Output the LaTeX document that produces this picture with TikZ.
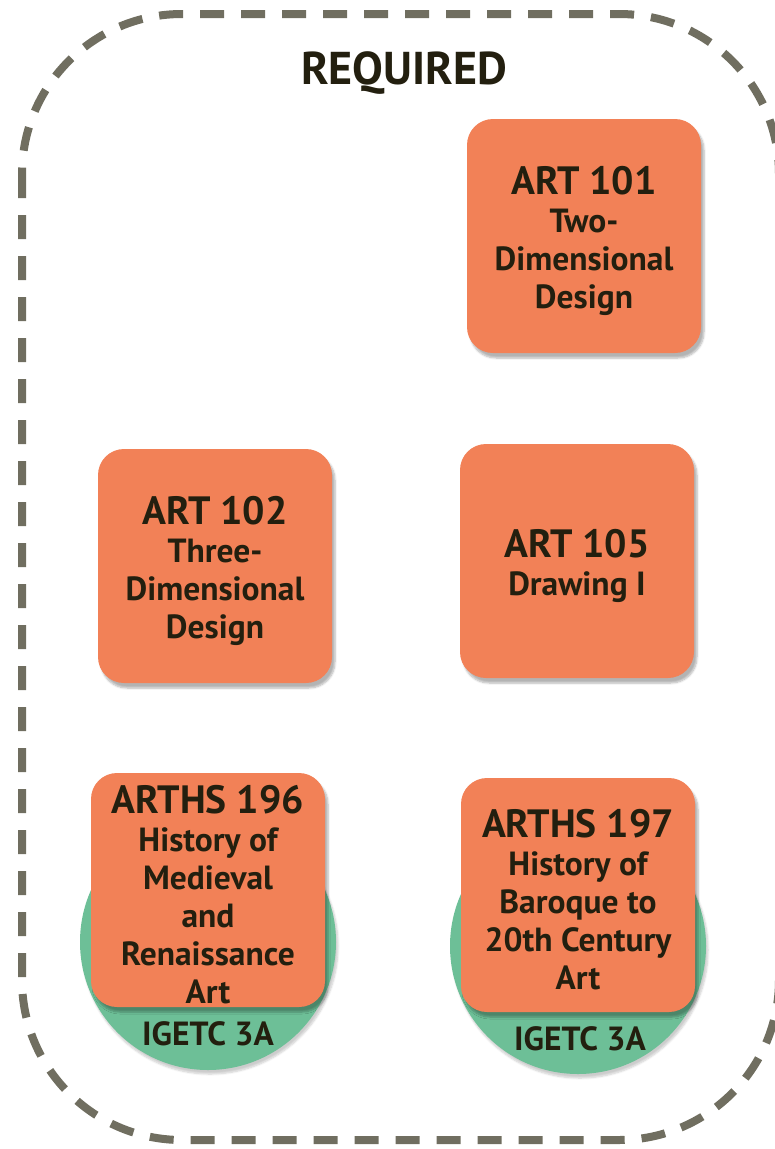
\documentclass[tikz,border=0pt]{standalone}
\usepackage{fontspec}
\setmainfont{PT Sans}
\usetikzlibrary{shadows.blur}
\definecolor{framegray}{HTML}{706E60}
\definecolor{boxorange}{HTML}{F28157}
\definecolor{igetcgreen}{HTML}{6DBF97}
\definecolor{txt}{HTML}{231F0F}
\tikzset{
  frame/.style={draw=framegray, line width=8pt, dash pattern=on 24pt off 17pt},
  course/.style={fill=boxorange, rounded corners=26pt, minimum width=234pt, minimum height=234pt,
    inner sep=0pt,
    blur shadow={shadow xshift=3pt, shadow yshift=-5pt, shadow blur steps=6, shadow opacity=30}},
  ctext/.style={align=center, inner sep=0pt, text=txt, font=\bfseries\fontsize{33.5}{38}\selectfont, yshift=-5pt},
  igetc/.style={circle, fill=igetcgreen, minimum size=256pt, inner sep=0pt,
    blur shadow={shadow xshift=2pt, shadow yshift=-4pt, shadow blur steps=6, shadow opacity=20}},
  lbl/.style={text=txt, font=\bfseries\fontsize{33.5}{38}\selectfont},
}
\newcommand{\code}[1]{{\fontsize{39.5}{39}\selectfont #1}}
\begin{document}
\begin{tikzpicture}[x=1pt, y=-1pt]
\useasboundingbox (0,0) rectangle (775,1149);
\draw[frame, rounded corners=160pt] (22,14) rectangle (779,1140);
\node[lbl, font=\bfseries\fontsize{46}{46}\selectfont] (title) at (404,73) {REQUIRED};

\node[course] (a101) at (584,236) {};
\node[ctext] (t101) at (a101.center) {\code{ART 101}\\Two-\\Dimensional\\Design};
\node[course] (a102) at (215,566) {};
\node[ctext] (t102) at (a102.center) {\code{ART 102}\\Three-\\Dimensional\\Design};
\node[course] (a105) at (577,561) {};
\node[ctext] (t105) at (a105.center) {\code{ART 105}\\Drawing I};

\node[igetc] (c196) at (208,942) {};
\node[course] (h196) at (208,890) {};
\node[ctext] (t196) at (h196.center) {\code{ARTHS 196}\\History of\\Medieval\\and\\Renaissance\\Art};
\node[lbl] (g196) at (208,1034) {IGETC 3A};

\node[igetc] (c197) at (578,946) {};
\node[course] (h197) at (578,895) {};
\node[ctext] (t197) at (h197.center) {\code{ARTHS 197}\\History of\\Baroque to\\20th Century\\Art};
\node[lbl] (g197) at (580,1039) {IGETC 3A};
\end{tikzpicture}
\end{document}
